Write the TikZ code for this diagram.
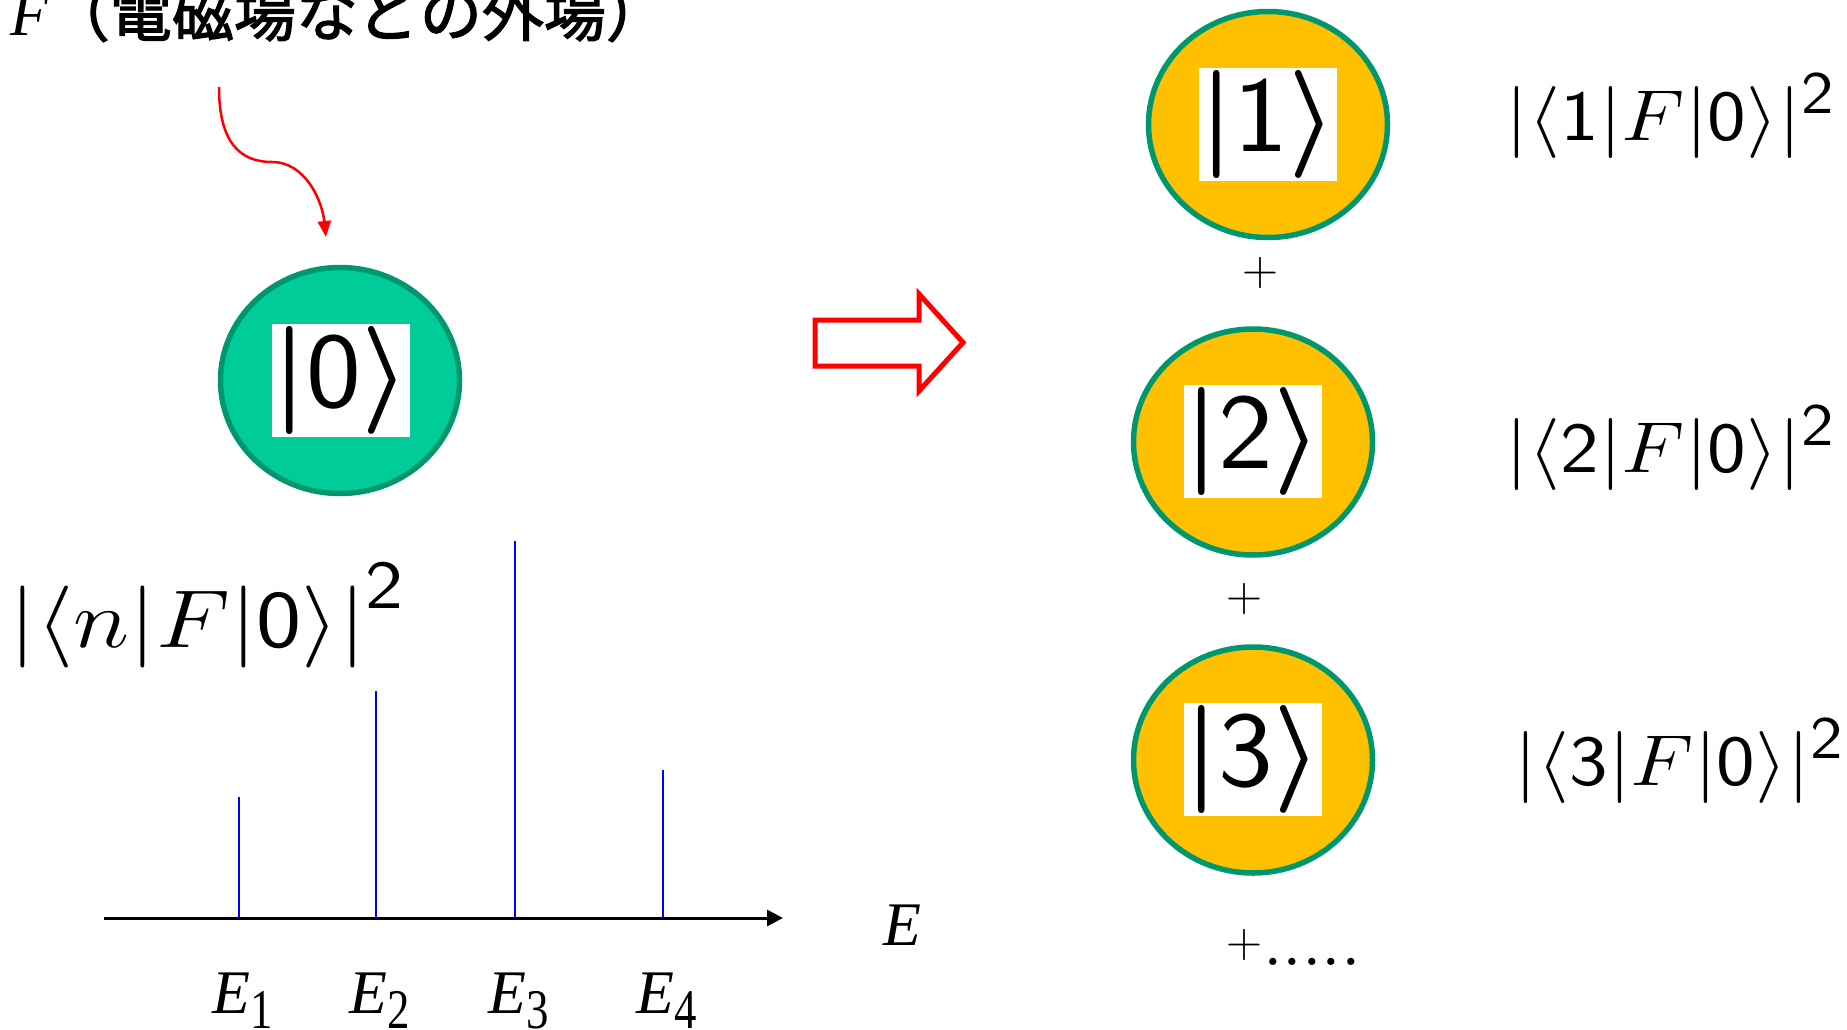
\RequirePackage{fix-cm}
\documentclass[tikz,border=0pt]{standalone}
\usepackage{fontspec}
\newfontfamily\cjkfont[FakeBold=2]{Noto Sans CJK JP}
\newfontfamily\tmsfont{Liberation Serif}
\usetikzlibrary{arrows.meta,shapes.geometric}
\definecolor{tealb}{RGB}{0,150,110}
\definecolor{greenf}{RGB}{0,204,153}
\definecolor{yellf}{RGB}{255,192,0}
\definecolor{specblue}{RGB}{0,0,255}
\newcommand\sqtwo[1]{^{\raisebox{#1}{\scalebox{1.2}{$\scriptstyle\mathsf{2}$}}}}
\newcommand\ketdigit[1]{\mbox{\scalebox{1.08}[1]{\fontseries{m}\sffamily #1}}}
\begin{document}
\begin{tikzpicture}[x=1pt,y=-1pt,
  every node/.style={inner sep=0pt, outer sep=0pt},
  gstate/.style={ellipse, draw=tealb, line width=5.5pt, fill=greenf, minimum width=239pt, minimum height=226pt},
  ystate/.style={gstate, fill=yellf},
  ketbox/.style={fill=white, minimum width=118pt, minimum height=113pt, font=\fontsize{108}{108}\selectfont\boldmath},
  amp/.style={anchor=base, font=\fontsize{72}{72}\selectfont},
  plus/.style={font=\fontsize{50}{50}\selectfont},
  spec/.style={draw=specblue, line width=2pt},
  elab/.style={anchor=base, font=\tmsfont\itshape\fontsize{62}{62}\selectfont},
]
\useasboundingbox (0,0) rectangle (1847,1030);

% title and field arrow
\node[anchor=base west, font=\fontsize{62}{62}\selectfont] (title) at (10,36)
  {{\tmsfont\itshape F}{\cjkfont （電磁場などの外場）}};
\coordinate (fs) at (219,87);
\coordinate (ft) at (326,237);
\draw[red, line width=2.5pt, -{Triangle[length=16pt,width=13pt]}]
  (fs) .. controls (219,140) and (238,162) .. (272,162)
       .. controls (305,162) and (322,200) .. (ft);

% ground state
\node[gstate] (s0) at (340,380.5) {};
\node[ketbox] (k0) at (341,380.5) {$|\ketdigit{0}\rangle$};

% excited states
\node[ystate] (s1) at (1268,124.5) {};
\node[ketbox] (k1) at (1268,124.5) {$|\ketdigit{1}\rangle$};
\node[ystate] (s2) at (1253,442) {};
\node[ketbox] (k2) at (1253,441.5) {$|\ketdigit{2}\rangle$};
\node[ystate] (s3) at (1253,760) {};
\node[ketbox] (k3) at (1253,759.5) {$|\ketdigit{3}\rangle$};

\node[plus] (p1) at (1260,273) {$+$};
\node[plus] (p2) at (1244,599) {$+$};
\node[plus, anchor=base west] (p3) at (1226,965)
  {\raisebox{8pt}{$+$}\kern3pt\textbf{.}\kern4pt\textbf{.}\kern4pt\textbf{.}\kern4pt\textbf{.}\kern4pt\textbf{.}};

% amplitudes
\node[amp] (a1) at (1670,140) {\scalebox{1.14}[1]{$|\langle\mathsf{1}|F|\mathsf{0}\rangle|\sqtwo{0pt}$}};
\node[amp] (a2) at (1670,472) {\scalebox{1.14}[1]{$|\langle\mathsf{2}|F|\mathsf{0}\rangle|\sqtwo{0pt}$}};
\node[amp] (a3) at (1679,785) {\scalebox{1.14}[1]{$|\langle\mathsf{3}|F|\mathsf{0}\rangle|\sqtwo{0pt}$}};
\node[amp, font=\fontsize{82}{82}\selectfont] (an) at (207,647)
  {\scalebox{1.17}[1]{$|\langle n|F|\mathsf{0}\rangle|\sqtwo{9pt}$}};

% block arrow
\draw[red, line width=5pt, miter limit=10] (815,320) -- (919,320) -- (919,294) -- (963,342.5)
  -- (919,391) -- (919,366) -- (815,366) -- cycle;

% spectrum
\coordinate (ax0) at (104,918);
\coordinate (ax1) at (783,918);
\foreach \x/\t/\n in {239/797/1, 376/691/2, 515/541/3, 663/770/4}{
  \coordinate (b\n) at (\x,918);
  \coordinate (t\n) at (\x,\t);
  \draw[spec] (b\n) -- (t\n);
}
\draw[line width=3pt, -{Triangle[length=16pt,width=16pt]}] (ax0) -- (ax1);
\node[elab] (eax) at (902,945) {E};
\foreach \x/\n in {243/1, 380/2, 519/3, 667/4}{
  \node[elab] (e\n) at (\x,1013)
    {E\lower15pt\hbox{\scalebox{0.8}[1]{\tmsfont\upshape\fontsize{56}{56}\selectfont \n}}};
}
\end{tikzpicture}
\end{document}
